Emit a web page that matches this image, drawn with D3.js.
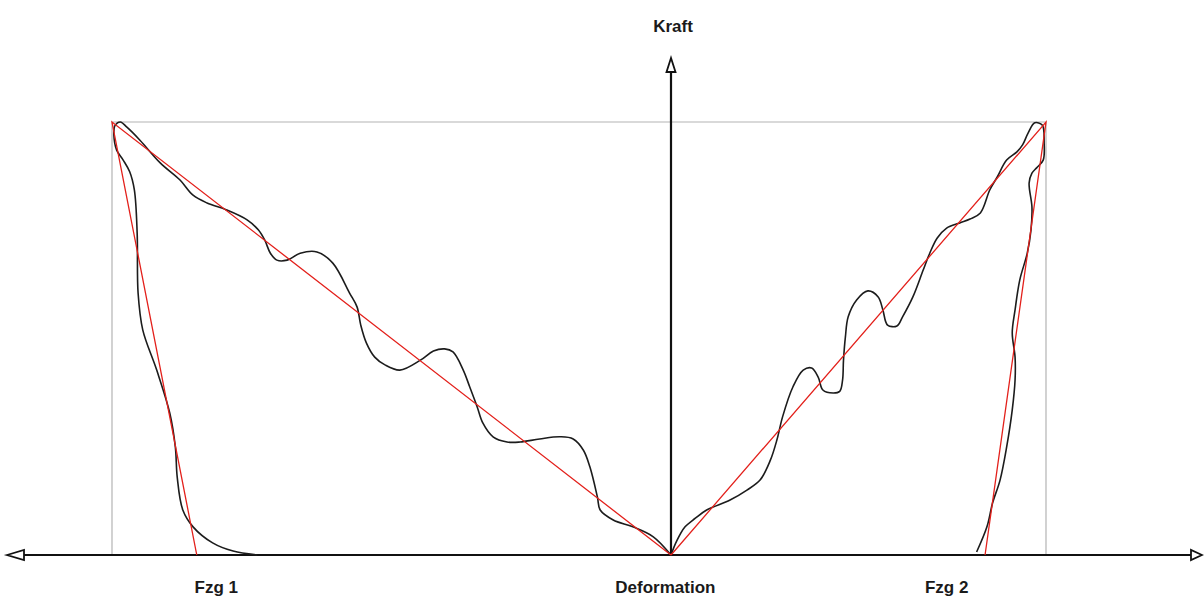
<!DOCTYPE html>
<html>
<head>
<meta charset="utf-8">
<script src="https://cdn.jsdelivr.net/npm/d3@7"></script>
<style>
  html, body { margin: 0; padding: 0; background: #fff; }
  svg { display: block; }
  text { font-family: "Liberation Sans", Arial, sans-serif; font-weight: bold; font-size: 17px; fill: #1a1a1a; }
</style>
</head>
<body>
<svg id="chart" width="1204" height="597"></svg>
<script>
// Measured force–deformation curves of two vehicles (Fzg 1 to the left, Fzg 2 to the right)
const fzg1Deformation = [0, -1.9, -4.1, -6.2, -7.6, -7.9, -8.7, -9.4, -10.5, -11.9, -14.1, -16.2, -17.6, -19.1, -20.2, -20.8, -21.6, -22.3, -23.4, -24.3, -25.5, -26.9, -29.1, -30.7, -31.8, -32.7, -33.3, -33.7, -34.5, -36.3, -38.0, -39.8, -41.2, -42.3, -43.0, -43.6, -44.3, -45.5, -47.7, -49.8, -51.3, -52.7, -54.8, -57.0, -58.4, -59.1, -59.7, -59.8, -59.5, -58.8, -58.1, -57.6, -57.3, -57.2, -56.7, -55.2, -53.8, -53.2, -53.0, -52.4, -51.3, -49.2, -47.0, -44.4];
const fzg1Force = [0, 4.2, 6.5, 8.1, 10.4, 13.4, 20.3, 24.2, 26.8, 27.3, 26.8, 26.1, 26.1, 27.3, 30.5, 34.2, 38.8, 42.7, 46.9, 47.6, 47.1, 45.0, 42.7, 43.9, 45.7, 49.0, 53.1, 57.3, 60.5, 67.4, 70.0, 69.7, 68.1, 68.1, 69.7, 72.7, 75.1, 77.4, 79.7, 81.3, 83.1, 86.6, 90.5, 95.8, 98.8, 100, 99.1, 97.0, 93.5, 91.2, 88.5, 84.3, 74.4, 60.5, 52.0, 42.7, 32.8, 24.9, 18.0, 10.4, 6.5, 2.8, 0.9, 0];

const fzg2Deformation = [0, 0.6, 1.5, 2.6, 3.8, 6.3, 8.1, 9.5, 10.6, 11.3, 11.9, 13.0, 14.1, 15.0, 15.7, 16.2, 17.3, 18.0, 18.3, 18.4, 18.6, 18.9, 19.8, 21.0, 22.1, 22.6, 23.1, 24.1, 24.7, 25.8, 26.9, 27.6, 28.4, 29.4, 30.8, 31.9, 33.0, 34.0, 34.8, 35.8, 36.9, 37.5, 38.1, 38.8, 39.6, 39.8, 39.7, 39.0, 38.5, 38.2, 38.5, 38.4, 38.0, 37.2, 36.7, 36.4, 36.7, 36.7, 36.4, 35.8, 35.1, 34.3, 33.7, 32.6];
const fzg2Force = [0, 3.2, 6.5, 8.5, 10.4, 12.7, 15.0, 17.3, 21.9, 26.6, 31.9, 38.8, 42.7, 43.2, 41.1, 38.1, 37.4, 37.8, 40.4, 45.0, 50.3, 55.0, 58.9, 61.0, 59.6, 56.6, 53.1, 52.9, 55.0, 59.6, 65.8, 69.7, 73.2, 75.5, 76.7, 77.6, 79.0, 84.3, 87.3, 91.2, 93.1, 94.7, 97.5, 99.8, 99.3, 95.2, 91.2, 89.4, 88.2, 85.9, 80.4, 75.1, 69.7, 63.5, 56.6, 51.3, 45.7, 40.4, 33.5, 24.9, 17.3, 12.0, 6.5, 0.7];

// Idealised (linearised) characteristics: origin -> peak -> residual deformation
const fzg1IdealDeformation = [0, -60, -50.9];
const fzg1IdealForce = [0, 100, 0];
const fzg2IdealDeformation = [0, 40, 33.5];
const fzg2IdealForce = [0, 100, 0];

// Envelope of maximum deformation and maximum force
const frameDeformation = [-60, -60, 40, 40];
const frameForce = [0, 100, 100, 0];

const axisLabels = ["Fzg 1", "Deformation", "Fzg 2"];
const axisLabelDeformation = [-48.8, -0.6, 29.4];
const forceLabel = "Kraft";

const svg = d3.select("#chart");

const x = d3.scaleLinear().domain([-60, 0, 40]).range([112, 671, 1046]);
const y = d3.scaleLinear().domain([0, 100]).range([555, 122]);

const zip = (xs, ys) => xs.map((v, i) => [v, ys[i]]);

const straight = d3.line().x(d => x(d[0])).y(d => y(d[1]));
const smooth = d3.line().x(d => x(d[0])).y(d => y(d[1])).curve(d3.curveCatmullRom.alpha(0.5));

// grey envelope
svg.append("path")
  .attr("d", straight(zip(frameDeformation, frameForce)))
  .attr("fill", "none")
  .attr("stroke", "#b4b4b4")
  .attr("stroke-width", 1.2);

// axes with open arrowheads
const x0 = x(0), y0 = y(0);
const axisG = svg.append("g").attr("stroke", "#111").attr("fill", "none");
axisG.append("line").attr("x1", 24).attr("x2", 1191).attr("y1", y0).attr("y2", y0).attr("stroke-width", 2.2);
axisG.append("line").attr("x1", x0).attr("x2", x0).attr("y1", y0).attr("y2", 72).attr("stroke-width", 2.2);
axisG.append("path").attr("d", `M7,${y0} L24,${y0 - 5} L24,${y0 + 5} Z`).attr("fill", "#fff").attr("stroke-width", 1.8);
axisG.append("path").attr("d", `M1202,${y0} L1191,${y0 - 5} L1191,${y0 + 5} Z`).attr("fill", "#fff").attr("stroke-width", 1.8);
axisG.append("path").attr("d", `M${x0},58 L${x0 - 4.5},72 L${x0 + 4.5},72 Z`).attr("fill", "#fff").attr("stroke-width", 1.8);

// measured curves
[zip(fzg1Deformation, fzg1Force), zip(fzg2Deformation, fzg2Force)].forEach(pts => {
  svg.append("path")
    .attr("d", smooth(pts))
    .attr("fill", "none")
    .attr("stroke", "#1c1c1c")
    .attr("stroke-width", 1.6)
    .attr("stroke-linejoin", "round");
});

// idealised red lines
[zip(fzg1IdealDeformation, fzg1IdealForce), zip(fzg2IdealDeformation, fzg2IdealForce)].forEach(pts => {
  svg.append("path")
    .attr("d", straight(pts))
    .attr("fill", "none")
    .attr("stroke", "#e3201b")
    .attr("stroke-width", 1.3);
});

// labels
svg.selectAll("text.xlab")
  .data(axisLabels)
  .join("text")
  .attr("class", "xlab")
  .attr("x", (d, i) => x(axisLabelDeformation[i]))
  .attr("y", 593)
  .attr("text-anchor", "middle")
  .text(d => d);

svg.append("text")
  .attr("x", x0 + 2)
  .attr("y", 32)
  .attr("text-anchor", "middle")
  .text(forceLabel);
</script>
</body>
</html>
